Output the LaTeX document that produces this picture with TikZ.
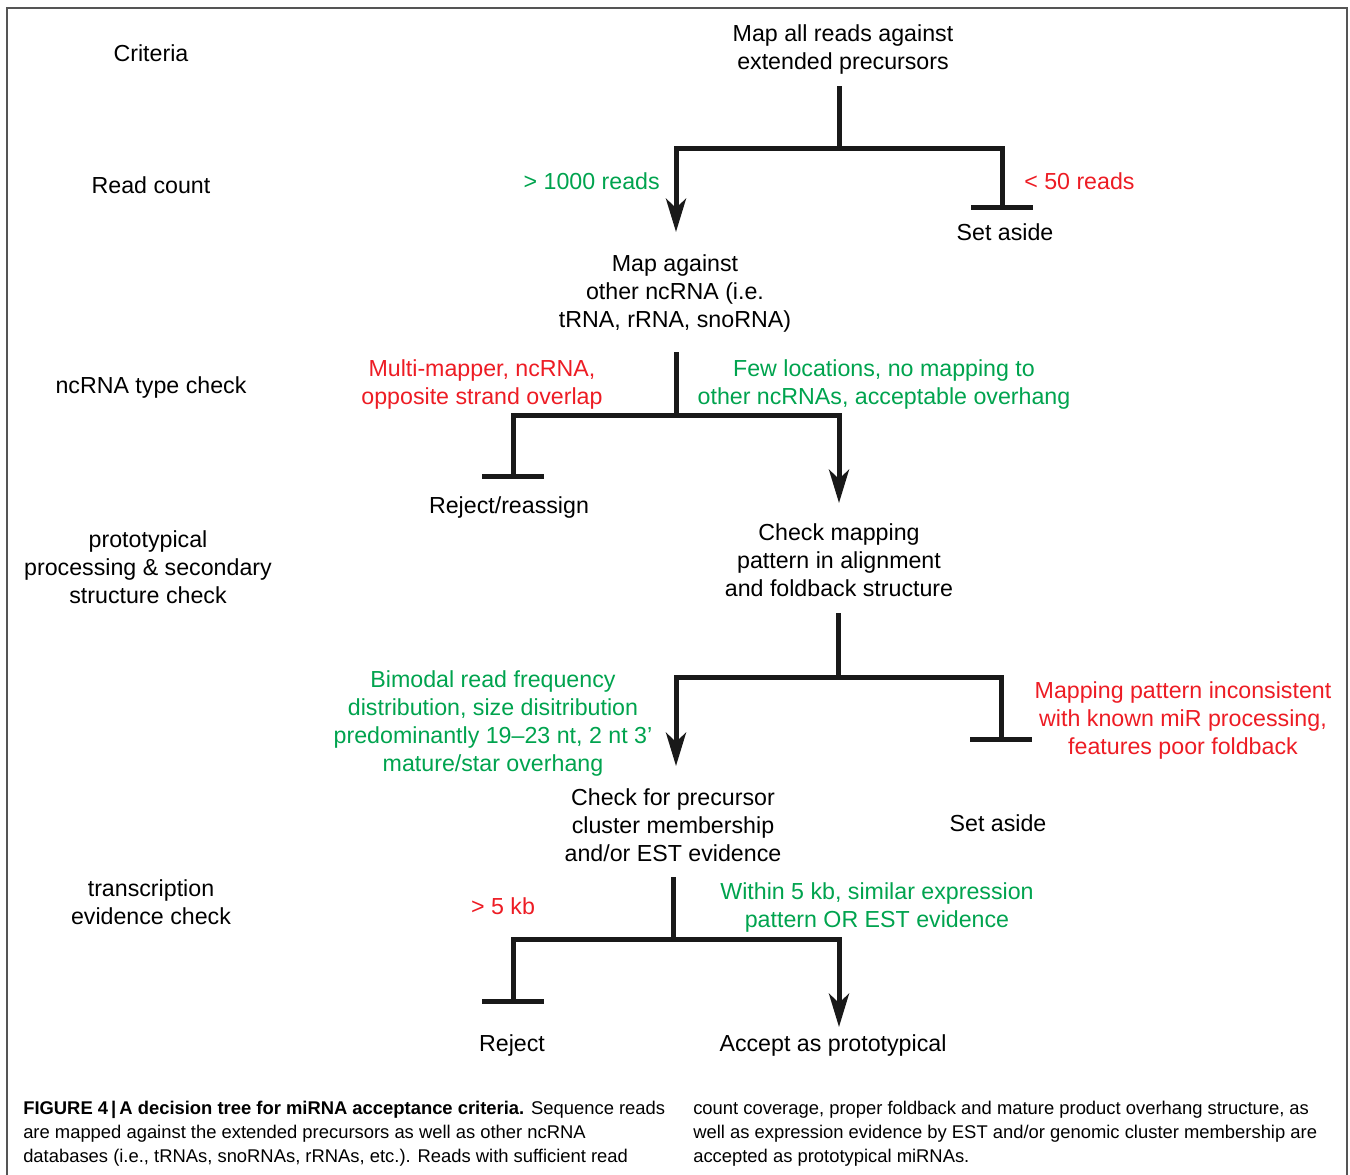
\documentclass[tikz,border=0pt]{standalone}
\usepackage{fontspec}
\setmainfont{Liberation Sans}
\newfontfamily\capfont{Liberation Sans}
\usetikzlibrary{arrows.meta}
\definecolor{tgreen}{RGB}{0,163,78}
\definecolor{tred}{RGB}{237,28,36}
\definecolor{framec}{RGB}{85,85,85}
\begin{document}
\begin{tikzpicture}[x=0.75pt,y=-0.75pt,
  txt/.style={font=\fontsize{17.4}{21}\selectfont, align=center, inner sep=0pt},
  gtxt/.style={txt, text=tgreen},
  rtxt/.style={txt, text=tred},
  captxt/.style={font=\capfont\fontsize{13.8}{18}\selectfont, inner sep=0pt, anchor=base west},
  conn/.style={line width=3.75pt, draw=black!90, line join=miter},
  barboth/.style={{Bar[width=46pt]}-{Stealth[length=25pt,width=15pt,inset=7pt]}},
]
\useasboundingbox (0,0) rectangle (1350,1175);
% frame
\draw[framec, line width=1.5pt] (7,1180) -- (7,8) -- (1347,8) -- (1347,1180);

% criteria column
\node[txt] (crit) at (151,53) {Criteria};
\node[txt] (rc) at (151,185) {Read count};
\node[txt] (nc) at (151,387) {ncRNA type check};
\node[txt] (pp) at (148,567) {prototypical\\processing \& secondary\\structure check};
\node[txt] (te) at (151,902) {transcription\\evidence check};

% level 1
\node[txt] (n1) at (843,49) {Map all reads against\\extended precursors};
\coordinate (s1) at (839,86);
\coordinate (m1) at (839,148);
\coordinate (l1) at (676,148);
\coordinate (r1) at (1002,148);
\coordinate (t1) at (676,232);
\coordinate (b1) at (1002,210);
\draw[conn] (s1) -- (m1);
\draw[conn, barboth] (b1) -- (r1) -- (l1) -- (t1);
\node[gtxt, anchor=east] (g1) at (660,181) {> 1000 reads};
\node[rtxt, anchor=west] (r1t) at (1024,181) {< 50 reads};
\node[txt] (sa1) at (1005,232) {Set aside};

% level 2
\node[txt] (n2) at (675,293) {Map against\\other ncRNA (i.e.\\tRNA, rRNA, snoRNA)};
\coordinate (s2) at (676,352);
\coordinate (m2) at (676,415);
\coordinate (l2) at (513,415);
\coordinate (r2) at (839,415);
\coordinate (b2) at (513,479);
\coordinate (t2) at (839,503);
\draw[conn] (s2) -- (m2);
\draw[conn, barboth] (b2) -- (l2) -- (r2) -- (t2);
\node[rtxt] (rt2) at (482,384) {Multi-mapper, ncRNA,\\opposite strand overlap};
\node[gtxt] (gt2) at (884,384) {Few locations, no mapping to\\other ncRNAs, acceptable overhang};
\node[txt] (rj2) at (509,507) {Reject/reassign};

% level 3
\node[txt] (n3) at (839,560) {Check mapping\\pattern in alignment\\and foldback structure};
\coordinate (s3) at (838,613);
\coordinate (m3) at (838,677);
\coordinate (l3) at (676,677);
\coordinate (r3) at (1001,677);
\coordinate (t3) at (676,766);
\coordinate (b3) at (1001,742);
\draw[conn] (s3) -- (m3);
\draw[conn, barboth] (b3) -- (r3) -- (l3) -- (t3);
\node[gtxt] (gt3) at (493,723) {Bimodal read frequency\\distribution, size disitribution\\predominantly 19–23 nt, 2 nt 3’\\mature/star overhang};
\node[rtxt] (rt3) at (1183,720) {Mapping pattern inconsistent\\with known miR processing,\\features poor foldback};
\node[txt] (sa3) at (998,823) {Set aside};

% level 4
\node[txt] (n4) at (673,825) {Check for precursor\\cluster membership\\and/or EST evidence};
\coordinate (s4) at (673,877);
\coordinate (m4) at (673,939);
\coordinate (l4) at (513,939);
\coordinate (r4) at (839,939);
\coordinate (b4) at (513,1004);
\coordinate (t4) at (839,1027);
\draw[conn] (s4) -- (m4);
\draw[conn, barboth] (b4) -- (l4) -- (r4) -- (t4);
\node[rtxt] (rt4) at (503,906) {> 5 kb};
\node[gtxt] (gt4) at (877,907) {Within 5 kb, similar expression\\pattern OR EST evidence};
\node[txt] (rj4) at (512,1045) {Reject};
\node[txt] (ac4) at (833,1045) {Accept as prototypical};

% caption
\node[captxt] (c1) at (23,1114) {\textbf{FIGURE 4\,|\,A decision tree for miRNA acceptance criteria.} Sequence reads};
\node[captxt] (c2) at (23,1138) {are mapped against the extended precursors as well as other ncRNA};
\node[captxt] (c3) at (23,1162) {databases (i.e., tRNAs, snoRNAs, rRNAs, etc.). Reads with sufficient read};
\node[captxt] (c4) at (693,1114) {count coverage, proper foldback and mature product overhang structure, as};
\node[captxt] (c5) at (693,1138) {well as expression evidence by EST and/or genomic cluster membership are};
\node[captxt] (c6) at (693,1162) {accepted as prototypical miRNAs.};
\end{tikzpicture}
\end{document}
